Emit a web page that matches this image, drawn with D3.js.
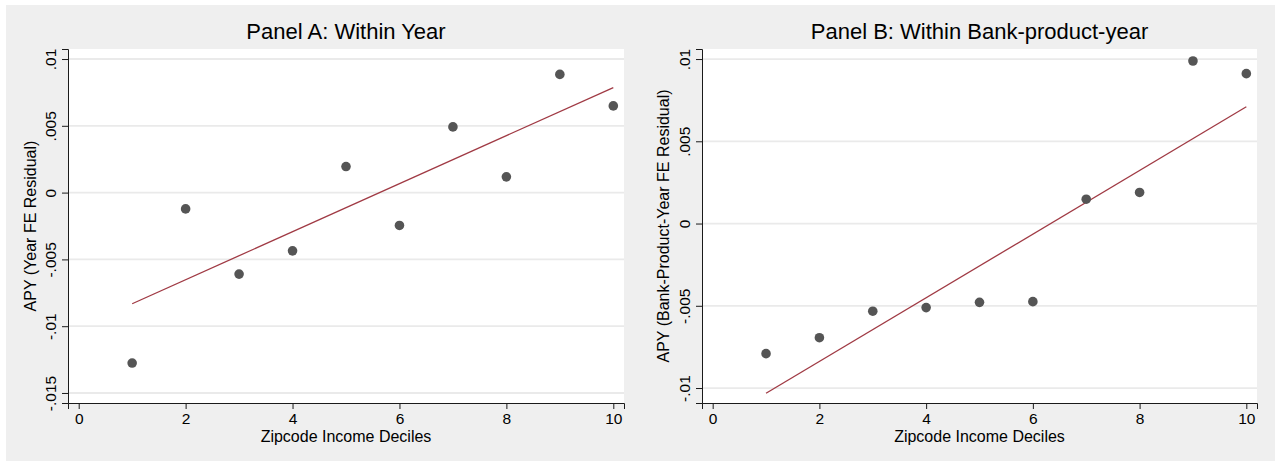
<!DOCTYPE html>
<html>
<head>
<meta charset="utf-8">
<script src="https://cdn.jsdelivr.net/npm/d3@7"></script>
<style>
  body { margin: 0; background: #fff; }
  svg { display: block; font-family: "Liberation Sans", Arial, sans-serif; }
  .grid line { stroke: #eaeaea; stroke-width: 1.8; }
  .axis path, .axis line { stroke: #1a1a1a; }
  .axis text { fill: #000; font-size: 15.5px; font-family: "Liberation Sans", Arial, sans-serif; }
</style>
</head>
<body>
<script>
// values
var deciles = [1, 2, 3, 4, 5, 6, 7, 8, 9, 10]

var apyYearFE = [-0.01276, -0.00122, -0.00610, -0.00436, 0.00195,
                 -0.00246, 0.00492, 0.00118, 0.00885, 0.00649]
var fitYearFE = [[1, -0.00832], [10, 0.00786]]

var apyBankFE = [-0.00791, -0.00694, -0.00533, -0.00511, -0.00479,
                 -0.00475, 0.00148, 0.00189, 0.00988, 0.00911]
var fitBankFE = [[1, -0.01032], [10, 0.00710]]

var xTicks = [0, 2, 4, 6, 8, 10]
var yTicksA = [-0.015, -0.01, -0.005, 0, 0.005, 0.01]
var yTickLabelsA = ['-.015', '-.01', '-.005', '0', '.005', '.01']
var yTicksB = [-0.01, -0.005, 0, 0.005, 0.01]
var yTickLabelsB = ['-.01', '-.005', '0', '.005', '.01']

var width = 1275,
    height = 461

var svg = d3.select('body').append('svg')
    .attr('width', width)
    .attr('height', height)

svg.append('rect')
    .attr('x', 6).attr('y', 5)
    .attr('width', width - 6).attr('height', height - 5)
    .attr('fill', '#efefef')

function drawPanel(p) {
  var x = d3.scaleLinear().domain([-0.2, 10.2]).range([p.left, p.right])
  var y = d3.scaleLinear().domain(p.yDomain).range([p.bottom, p.top])
  var g = svg.append('g')

  g.append('rect')
      .attr('x', p.left).attr('y', p.top)
      .attr('width', p.right - p.left).attr('height', p.bottom - p.top)
      .attr('fill', '#fff')

  g.append('g')
      .attr('class', 'grid')
    .selectAll('line')
    .data(p.yTicks)
    .enter().append('line')
      .attr('x1', p.left + 1).attr('x2', p.right)
      .attr('y1', y).attr('y2', y)

  var xAxis = g.append('g')
      .attr('class', 'axis')
      .attr('transform', 'translate(0,' + p.bottom + ')')
      .call(d3.axisBottom(x).tickValues(xTicks).tickSizeOuter(0).tickSize(6)
        .tickFormat(d3.format('d')))
  xAxis.selectAll('text').attr('y', 21).attr('dy', 0)

  var yAxis = g.append('g')
      .attr('class', 'axis')
      .attr('transform', 'translate(' + p.left + ',0)')
      .call(d3.axisLeft(y).tickValues(p.yTicks).tickSizeOuter(0).tickSize(6)
        .tickFormat(function(d, i) { return p.yTickLabels[i] }))
  yAxis.selectAll('text')
      .attr('transform', 'rotate(-90)')
      .attr('x', 0).attr('y', -12).attr('dy', 0)
      .attr('text-anchor', 'middle')

  g.append('path')
      .datum(p.fit)
      .attr('fill', 'none')
      .attr('stroke', '#a03a44')
      .attr('stroke-width', 1.3)
      .attr('d', d3.line().x(function(d) { return x(d[0]) }).y(function(d) { return y(d[1]) }))

  g.selectAll('circle.pt')
    .data(p.values)
    .enter().append('circle')
      .attr('class', 'pt')
      .attr('cx', function(d, i) { return x(deciles[i]) })
      .attr('cy', function(d) { return y(d) })
      .attr('r', 4.8)
      .attr('fill', '#555')

  var mid = (p.left + p.right) / 2
  g.append('text')
      .attr('x', mid).attr('y', 39)
      .attr('text-anchor', 'middle')
      .attr('font-size', 22)
      .text(p.title)

  g.append('text')
      .attr('x', mid).attr('y', 442)
      .attr('text-anchor', 'middle')
      .attr('font-size', 16)
      .text('Zipcode Income Deciles')

  g.append('text')
      .attr('transform', 'translate(' + p.yTitleX + ',' + ((p.top + p.bottom) / 2) + ') rotate(-90)')
      .attr('text-anchor', 'middle')
      .attr('font-size', 16)
      .text(p.yTitle)
}

drawPanel({
  title: 'Panel A: Within Year',
  yTitle: 'APY (Year FE Residual)',
  left: 68, right: 624, top: 49, bottom: 403, yTitleX: 36,
  yDomain: [-0.01575, 0.01075],
  yTicks: yTicksA, yTickLabels: yTickLabelsA,
  values: apyYearFE, fit: fitYearFE
})

drawPanel({
  title: 'Panel B: Within Bank-product-year',
  yTitle: 'APY (Bank-Product-Year FE Residual)',
  left: 702, right: 1257, top: 49, bottom: 403, yTitleX: 669,
  yDomain: [-0.01091, 0.01061],
  yTicks: yTicksB, yTickLabels: yTickLabelsB,
  values: apyBankFE, fit: fitBankFE
})
</script>
</body>
</html>
